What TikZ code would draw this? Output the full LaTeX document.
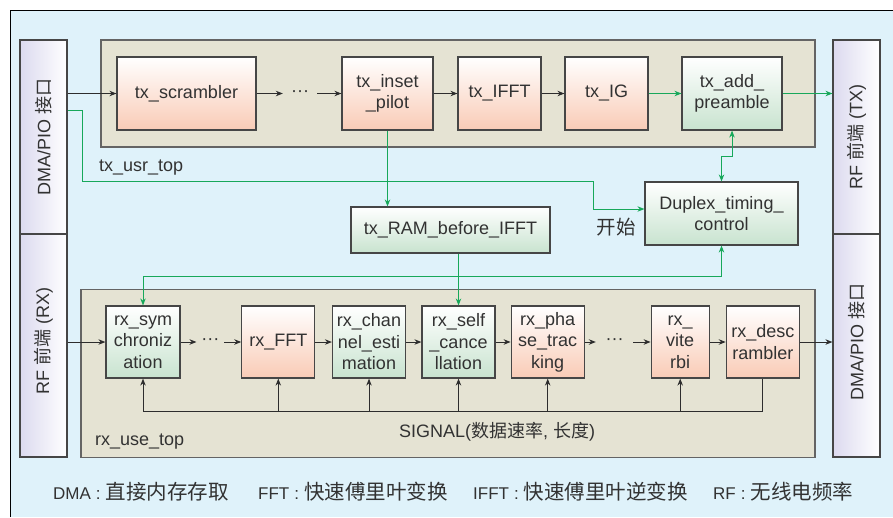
\documentclass[tikz,border=0pt]{standalone}
\usepackage{fontspec}
\setmainfont{Liberation Sans}
\newfontfamily\cjk{Noto Sans CJK SC}
\usetikzlibrary{arrows.meta}
\definecolor{bgblue}{RGB}{223,242,250}
\definecolor{contf}{RGB}{229,227,211}
\definecolor{contb}{RGB}{100,100,100}
\definecolor{bordc}{RGB}{70,70,70}
\definecolor{textc}{RGB}{50,50,50}
\definecolor{pinkb}{RGB}{249,203,182}
\definecolor{greenb}{RGB}{200,227,207}
\definecolor{lav}{RGB}{220,218,239}
\definecolor{linec}{RGB}{45,45,45}
\definecolor{greenl}{RGB}{23,168,90}
\newcommand\boxfont{\fontsize{18}{21.5}\selectfont}
\newcommand\legfont{\fontsize{17}{20}\selectfont}
\newcommand\legcjk{\cjk\fontsize{20.5}{21}\selectfont}
\tikzset{
  box/.style={draw=bordc, line width=1.2pt, align=center, text=textc, font=\boxfont, inner sep=0pt},
  pinkbox/.style={box, top color=white, bottom color=pinkb},
  greenbox/.style={box, top color=white, bottom color=greenb},
  cont/.style={draw=contb, line width=1.4pt, fill=contf, inner sep=0pt},
  sidebar/.style={draw=bordc, line width=1.2pt, left color=lav, right color=white, inner sep=0pt, minimum width=47pt},
  arr/.style={draw=linec, line width=1pt, -{Stealth[length=7pt,width=5.5pt]}},
  garr/.style={draw=greenl, line width=1pt, -{Stealth[length=7pt,width=5.5pt]}},
  garrb/.style={draw=greenl, line width=1pt, {Stealth[length=7pt,width=5.5pt]}-{Stealth[length=7pt,width=5.5pt]}},
  bline/.style={draw=linec, line width=1pt},
  lbl/.style={text=textc, font=\boxfont, inner sep=0pt},
  leg/.style={text=textc, font=\legfont, inner sep=0pt},
  dotsn/.style={inner sep=0pt, text=textc, font=\boxfont},
}
\begin{document}
\begin{tikzpicture}[x=1pt,y=-1pt]
\useasboundingbox (0,0) rectangle (893,517);
\fill[bgblue] (10,10) rectangle (893,517);
\draw[black, line width=1pt] (10,517) -- (10,10) -- (893,10);

% containers
\node[cont, minimum width=714pt, minimum height=107pt] (txc) at (458,93.5) {};
\node[cont, minimum width=734pt, minimum height=168pt] (rxc) at (448,373.5) {};

% side bars
\node[sidebar, minimum height=194pt] (dmaT) at (43.5,137) {};
\node[sidebar, minimum height=223pt] (rfR) at (43.5,345.5) {};
\node[sidebar, minimum height=194pt] (rfT) at (856.5,137) {};
\node[sidebar, minimum height=223pt] (dmaR) at (856.5,345.5) {};
\node[lbl, rotate=90] (ldmaT) at (43.5,137) {DMA/PIO {\cjk 接口}};
\node[lbl, rotate=90] (lrfR) at (43.5,341) {RF {\cjk 前端} (RX)};
\node[lbl, rotate=90] (lrfT) at (856.5,137) {RF {\cjk 前端} (TX)};
\node[lbl, rotate=90] (ldmaR) at (856.5,341.5) {DMA/PIO {\cjk 接口}};

% TX boxes
\node[pinkbox, minimum width=139pt, minimum height=73pt] (scr) at (186.5,93.5) {tx\_scrambler};
\node[dotsn, minimum width=34pt] (dt) at (300,93.5) {···};
\node[pinkbox, minimum width=91pt, minimum height=73pt] (pil) at (387.5,93.5) {tx\_inset\\\_pilot};
\node[pinkbox, minimum width=83pt, minimum height=73pt] (ifft) at (499.5,93.5) {tx\_IFFT};
\node[pinkbox, minimum width=83pt, minimum height=73pt] (ig) at (606.5,93.5) {tx\_IG};
\node[greenbox, minimum width=100pt, minimum height=73pt] (pre) at (732,93.5) {tx\_add\_\\preamble};

\node[greenbox, minimum width=199pt, minimum height=46pt] (ram) at (450.5,230) {tx\_RAM\_before\_IFFT};
\node[greenbox, minimum width=153pt, minimum height=63pt] (dup) at (721.5,213.5) {Duplex\_timing\_\\control};

% RX boxes
\node[greenbox, minimum width=74pt, minimum height=72pt] (sym) at (143,342) {rx\_sym\\chroniz\\ation};
\node[dotsn, minimum width=27.5pt] (dr1) at (210.4,342) {···};
\node[pinkbox, minimum width=73pt, minimum height=72pt] (fft) at (278.3,342) {rx\_FFT};
\node[greenbox, minimum width=73pt, minimum height=72pt] (chan) at (369,342) {rx\_chan\\nel\_esti\\mation};
\node[greenbox, minimum width=73pt, minimum height=72pt] (self) at (458.5,342) {rx\_self\\\_cance\\llation};
\node[pinkbox, minimum width=73pt, minimum height=72pt] (pha) at (547.7,342) {rx\_pha\\se\_trac\\king};
\node[dotsn, minimum width=37pt] (dr2) at (614.5,342) {···};
\node[pinkbox, minimum width=58pt, minimum height=72pt] (vit) at (680.2,342) {rx\_\\vite\\rbi};
\node[pinkbox, minimum width=73pt, minimum height=72pt] (desc) at (762.8,342) {rx\_desc\\rambler};

% labels
\node[lbl, anchor=west] (usr) at (99,168) {tx\_usr\_top};
\node[lbl, anchor=west] (rxu) at (95,442) {rx\_use\_top};
\node[lbl, anchor=west] (sig) at (399,432) {SIGNAL({\cjk 数据速率}, {\cjk 长度})};
\node[lbl] (ks) at (616,227) {\cjk\fontsize{19.5}{20}\selectfont 开始};

% legend
\node[leg, anchor=west] (l1) at (53,492) {DMA\hspace{5pt}:\hspace{5pt}{\legcjk 直接内存存取}};
\node[leg, anchor=west] (l2) at (258,492) {FFT\hspace{5pt}:\hspace{5pt}{\legcjk 快速傅里叶变换}};
\node[leg, anchor=west] (l3) at (473,492) {IFFT\hspace{5pt}:\hspace{5pt}{\legcjk 快速傅里叶逆变换}};
\node[leg, anchor=west] (l4) at (713,492) {RF\hspace{5pt}:\hspace{5pt}{\legcjk 无线电频率}};

% TX connectors
\draw[arr] (dmaT.east |- scr.west) -- (scr.west);
\draw[arr] (scr.east) -- (dt.west);
\draw[arr] (dt.east) -- (pil.west);
\draw[arr] (pil.east) -- (ifft.west);
\draw[arr] (ifft.east) -- (ig.west);
\draw[garr] (ig.east) -- (pre.west);
\draw[garr] (pre.east) -- (rfT.west |- pre.east);
\draw[garr] (pil.south) -- (pil.south |- ram.north);
\draw[garrb] (dup.north) -- (dup.north |- 0,156) -| (pre.south);
\coordinate (u0) at (dmaT.east |- 0,110);
\draw[garr] (u0) -- (82,110) -- (82,181) -- (593,181) -- (593,209) -- (dup.west |- 0,209);

% TX <-> RX
\draw[garrb] (dup.south) |- (sym.north |- 0,276) -- (sym.north);
\draw[garr] (self.north |- ram.south) -- (self.north);

% RX connectors
\draw[arr] (rfR.east |- sym.west) -- (sym.west);
\draw[arr] (sym.east) -- (dr1.west);
\draw[arr] (dr1.east) -- (fft.west);
\draw[arr] (fft.east) -- (chan.west);
\draw[arr] (chan.east) -- (self.west);
\draw[arr] (self.east) -- (pha.west);
\draw[arr] (pha.east) -- (dr2.west);
\draw[arr] (dr2.east) -- (vit.west);
\draw[arr] (vit.east) -- (desc.west);
\draw[arr] (desc.east) -- (dmaR.west |- desc.east);

% SIGNAL bus
\draw[bline] (sym.south |- 0,411) -- (desc.south |- 0,411) -- (desc.south);
\foreach \n in {sym,fft,chan,self,pha,vit} \draw[arr] (\n.south |- 0,411) -- (\n.south);
\end{tikzpicture}
\end{document}
